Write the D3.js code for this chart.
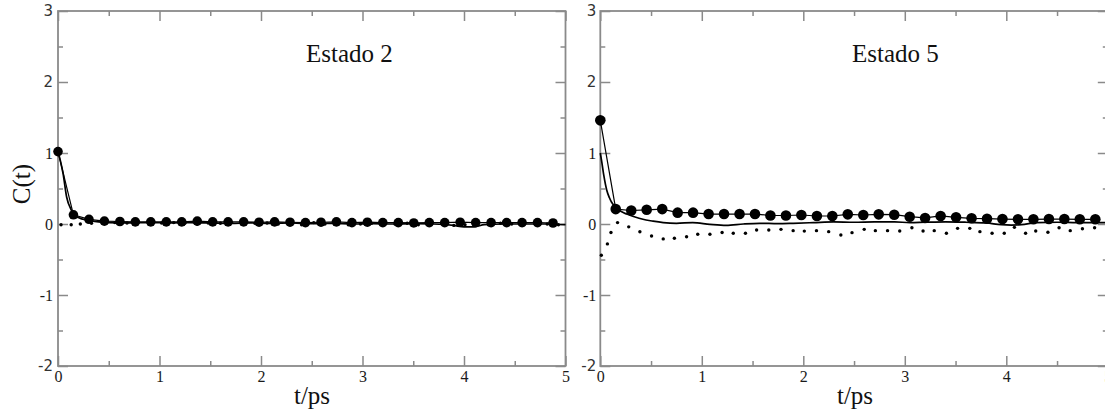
<!DOCTYPE html>
<html>
<head>
<meta charset="utf-8">
<script src="https://d3js.org/d3.v7.min.js"></script>
<style>
  html, body { margin: 0; padding: 0; background: #fff; overflow: hidden; }
  svg { display: block; }
</style>
</head>
<body>
<svg id="chart" width="1105" height="415"></svg>
<script>
// ---------- DATA ----------
const panelTitles = ["Estado 2", "Estado 5"];
const xTickValues = [0, 1, 2, 3, 4, 5];
const xMinorValues = [0.5, 1.5, 2.5, 3.5, 4.5];
const yTickValues = [-2, -1, 0, 1, 2, 3];
const yMinorValues = [-1.5, -0.5, 0.5, 1.5, 2.5];
const xLabel = "t/ps";
const yLabel = "C(t)";

// times of the circle-marked series (both panels)
const circleT = [0, 0.152, 0.305, 0.457, 0.61, 0.762, 0.914, 1.067, 1.219, 1.372, 1.524,
  1.676, 1.829, 1.981, 2.134, 2.286, 2.438, 2.591, 2.743, 2.896, 3.048, 3.2, 3.353,
  3.505, 3.658, 3.81, 3.962, 4.115, 4.267, 4.42, 4.572, 4.724, 4.877];

// Estado 2
const e2Circles = [1.02, 0.13, 0.066, 0.04, 0.035, 0.03, 0.03, 0.03, 0.03, 0.04, 0.03,
  0.03, 0.03, 0.025, 0.03, 0.025, 0.02, 0.025, 0.03, 0.02, 0.025, 0.02, 0.02,
  0.015, 0.02, 0.02, 0.025, 0.02, 0.02, 0.02, 0.02, 0.02, 0.014];
const e2SolidT = [0, 0.025, 0.05, 0.085, 0.13, 0.16, 0.2, 0.3, 0.4, 0.5, 0.7, 0.9, 1.1,
  1.3, 1.5, 1.7, 1.9, 2.1, 2.3, 2.5, 2.7, 2.9, 3.1, 3.3, 3.5, 3.7, 3.9, 4.0, 4.1, 4.2,
  4.4, 4.6, 4.8, 5.0];
const e2SolidV = [1.02, 0.88, 0.71, 0.38, 0.2, 0.13, 0.09, 0.05, 0.03, 0.02, 0.015, 0.02,
  0.015, 0.02, 0.015, 0.01, 0.015, 0.01, 0.015, 0.005, 0.01, 0.0, 0.005, 0.0, 0.005,
  0.0, -0.02, -0.04, -0.04, -0.01, 0.0, 0.0, 0.0, -0.01];
const e2DotT = [0.03, 0.13, 0.22, 0.33, 0.45, 0.56, 0.68, 0.79, 0.91, 1.02, 1.14, 1.25,
  1.37, 1.48, 1.6, 1.71, 1.83, 1.94, 2.06, 2.17, 2.29, 2.4, 2.52, 2.63, 2.75, 2.86,
  2.98, 3.09, 3.21, 3.32, 3.44, 3.55, 3.67, 3.78, 3.9, 4.01, 4.13, 4.24, 4.36, 4.47,
  4.59, 4.7, 4.82, 4.93];
const e2DotV = [-0.01, -0.01, 0.0, 0.01, 0.015, 0.02, 0.015, 0.02, 0.01, 0.015, 0.02,
  0.01, 0.0, 0.015, 0.01, 0.02, 0.0, 0.01, 0.015, 0.0, 0.01, -0.01, 0.02, 0.0, 0.01,
  -0.01, 0.0, 0.01, -0.005, 0.0, 0.01, -0.01, 0.0, 0.005, -0.02, -0.01, 0.0, -0.01,
  0.01, 0.0, -0.01, 0.005, 0.0, -0.01];

// Estado 5
const e5Circles = [1.46, 0.21, 0.19, 0.2, 0.21, 0.16, 0.16, 0.14, 0.14, 0.14, 0.14,
  0.12, 0.12, 0.127, 0.113, 0.113, 0.136, 0.127, 0.136, 0.131, 0.103, 0.085, 0.113,
  0.094, 0.08, 0.075, 0.07, 0.066, 0.066, 0.07, 0.07, 0.066, 0.066];
const e5SolidT = [0, 0.014, 0.035, 0.063, 0.09, 0.11, 0.15, 0.18, 0.23, 0.28, 0.35, 0.41,
  0.52, 0.62, 0.75, 0.91, 1.08, 1.24, 1.41, 1.57, 1.75, 1.9, 2.1, 2.3, 2.5, 2.7, 2.9,
  3.05, 3.2, 3.4, 3.6, 3.8, 3.95, 4.05, 4.15, 4.3, 4.5, 4.7, 4.9, 5.0];
const e5SolidV = [1.0, 0.88, 0.68, 0.48, 0.37, 0.31, 0.24, 0.2, 0.16, 0.13, 0.095, 0.07,
  0.04, 0.02, 0.01, 0.02, -0.005, -0.02, 0.0, 0.01, 0.005, 0.01, 0.02, 0.03, 0.025,
  0.03, 0.03, 0.02, 0.025, 0.03, 0.025, 0.015, -0.01, -0.015, -0.01, 0.02, 0.025,
  0.02, 0.02, 0.02];
const e5DotT = [0.01, 0.07, 0.105, 0.17, 0.28, 0.39, 0.505, 0.62, 0.73, 0.85, 0.96,
  1.08, 1.2, 1.31, 1.43, 1.54, 1.66, 1.78, 1.9, 2.01, 2.13, 2.25, 2.37, 2.48, 2.6,
  2.71, 2.83, 2.95, 3.07, 3.18, 3.29, 3.41, 3.52, 3.64, 3.74, 3.86, 3.98, 4.08, 4.19,
  4.29, 4.41, 4.52, 4.63, 4.75, 4.87];
const e5DotV = [-0.44, -0.28, -0.12, 0.02, -0.04, -0.11, -0.17, -0.21, -0.2, -0.18,
  -0.145, -0.145, -0.12, -0.13, -0.13, -0.085, -0.085, -0.075, -0.094, -0.1, -0.094,
  -0.108, -0.155, -0.122, -0.075, -0.094, -0.094, -0.099, -0.052, -0.099, -0.094,
  -0.131, -0.061, -0.061, -0.108, -0.131, -0.131, -0.047, -0.131, -0.099, -0.117,
  -0.052, -0.094, -0.066, -0.052];

// ---------- DRAW ----------
const svg = d3.select("#chart");
const axisColor = "#8a8a8a";
const serif = "'Liberation Serif', 'Times New Roman', serif";
const sans = "'DejaVu Sans', sans-serif";

const panels = [
  { title: panelTitles[0], x0: 58, x1: 565.5, titleX: 306, labelX: 312,
    circles: e2Circles, solidT: e2SolidT, solidV: e2SolidV, dotT: e2DotT, dotV: e2DotV, r: 4.8 },
  { title: panelTitles[1], x0: 600.3, x1: 1107.8, titleX: 852, labelX: 855,
    circles: e5Circles, solidT: e5SolidT, solidV: e5SolidV, dotT: e5DotT, dotV: e5DotV, r: 5.3 }
];

const yTop = 11, yBottom = 366;

panels.forEach((p, pi) => {
  const x = d3.scaleLinear().domain([0, 5]).range([p.x0, p.x1]);
  const y = d3.scaleLinear().domain([-2, 3]).range([yBottom, yTop]);
  const g = svg.append("g");

  // frame
  g.append("rect")
    .attr("x", x(0)).attr("y", y(3))
    .attr("width", x(5) - x(0)).attr("height", y(-2) - y(3))
    .attr("fill", "none").attr("stroke", axisColor).attr("stroke-width", 1.8);

  function styleAxis(sel) {
    sel.select(".domain").remove();
    sel.selectAll(".tick line").attr("stroke", axisColor).attr("stroke-width", 1.5);
  }

  // bottom axis major (with labels)
  const bx = g.append("g").attr("transform", `translate(0,${y(-2)})`)
    .call(d3.axisBottom(x).tickValues(xTickValues).tickSize(-10).tickSizeOuter(0)
      .tickPadding(5).tickFormat(d3.format("d")));
  styleAxis(bx);
  bx.selectAll("text")
    .style("font-family", serif).style("font-size", "16px").style("fill", "#1a1a1a");
  // bottom minor
  styleAxis(g.append("g").attr("transform", `translate(0,${y(-2)})`)
    .call(d3.axisBottom(x).tickValues(xMinorValues).tickSize(-5).tickFormat("")));
  // top axis
  styleAxis(g.append("g").attr("transform", `translate(0,${y(3)})`)
    .call(d3.axisTop(x).tickValues(xTickValues).tickSize(-10).tickFormat("")));
  styleAxis(g.append("g").attr("transform", `translate(0,${y(3)})`)
    .call(d3.axisTop(x).tickValues(xMinorValues).tickSize(-5).tickFormat("")));

  // left axis major (with labels)
  const isSans = d => (d >= 2 || d === -2);
  const ly = g.append("g").attr("transform", `translate(${x(0)},0)`)
    .call(d3.axisLeft(y).tickValues(yTickValues).tickSize(-10).tickSizeOuter(0)
      .tickPadding(pi === 0 ? 5 : 4).tickFormat(d3.format("d")));
  styleAxis(ly);
  ly.selectAll("text")
    .style("font-family", d => isSans(d) ? sans : serif)
    .style("font-size", d => isSans(d) ? "15px" : "16px")
    .style("fill", d => isSans(d) ? "#333" : "#1a1a1a")
    .text(d => d3.format("d")(d).replace("\u2212", "-"));
  styleAxis(g.append("g").attr("transform", `translate(${x(0)},0)`)
    .call(d3.axisLeft(y).tickValues(yMinorValues).tickSize(-5).tickFormat("")));
  // right axis
  styleAxis(g.append("g").attr("transform", `translate(${x(5)},0)`)
    .call(d3.axisRight(y).tickValues(yTickValues).tickSize(-10).tickFormat("")));
  styleAxis(g.append("g").attr("transform", `translate(${x(5)},0)`)
    .call(d3.axisRight(y).tickValues(yMinorValues).tickSize(-5).tickFormat("")));

  // solid line series
  const solid = p.solidT.map((t, i) => [t, p.solidV[i]]);
  const line = d3.line().x(d => x(d[0])).y(d => y(d[1])).curve(d3.curveMonotoneX);
  g.append("path").datum(solid)
    .attr("d", line).attr("fill", "none").attr("stroke", "#000").attr("stroke-width", 1.7);

  // circle series: thin line + markers
  const circ = circleT.map((t, i) => [t, p.circles[i]]);
  g.append("path").datum(circ)
    .attr("d", d3.line().x(d => x(d[0])).y(d => y(d[1])))
    .attr("fill", "none").attr("stroke", "#000").attr("stroke-width", 1.2);
  g.selectAll("circle.mk").data(circ).enter().append("circle")
    .attr("class", "mk")
    .attr("cx", d => x(d[0])).attr("cy", d => y(d[1])).attr("r", p.r)
    .attr("fill", "#000");

  // dotted series
  const dots = p.dotT.map((t, i) => [t, p.dotV[i]]);
  g.selectAll("circle.dt").data(dots).enter().append("circle")
    .attr("class", "dt")
    .attr("cx", d => x(d[0])).attr("cy", d => y(d[1])).attr("r", 1.7)
    .attr("fill", "#000");

  // panel title
  g.append("text").attr("x", p.titleX).attr("y", 62)
    .style("font-family", serif).style("font-size", "25px").style("fill", "#111")
    .text(p.title);

  // x label
  g.append("text").attr("x", p.labelX).attr("y", 404).attr("text-anchor", "middle")
    .style("font-family", serif).style("font-size", "25px").style("fill", "#111")
    .text(xLabel);
});

// y label
svg.append("text")
  .attr("transform", "translate(30,184) rotate(-90)")
  .attr("text-anchor", "middle")
  .style("font-family", serif).style("font-size", "25px").style("fill", "#111")
  .text(yLabel);
</script>
</body>
</html>
